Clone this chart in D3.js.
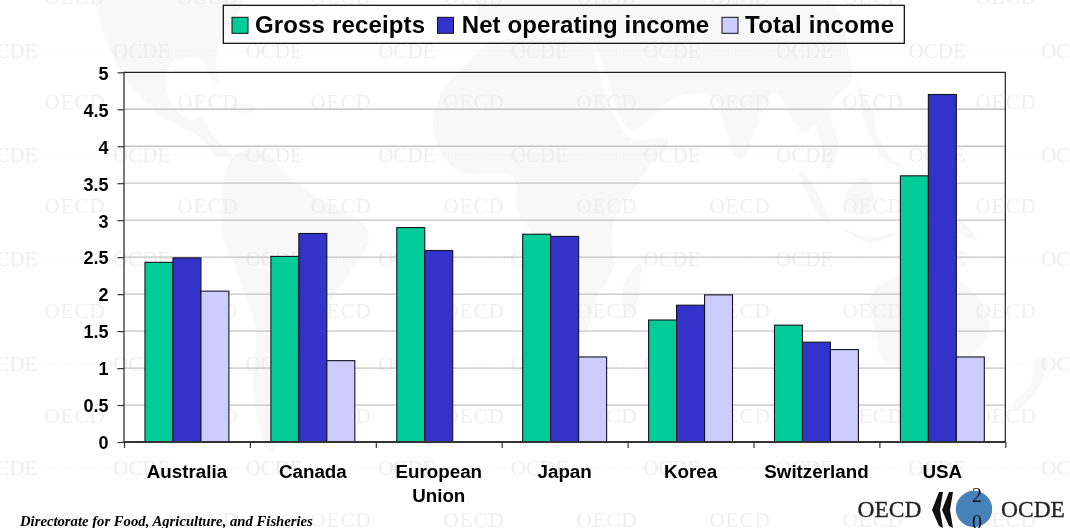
<!DOCTYPE html>
<html><head><meta charset="utf-8">
<script src="https://cdn.jsdelivr.net/npm/d3@7/dist/d3.min.js"></script>
<style>html,body{margin:0;padding:0;background:#fff;overflow:hidden}svg{display:block;filter:blur(0.35px)}</style>
</head><body><svg id="c" width="1070" height="528"></svg>
<script>
const categories = ["Australia","Canada","European Union","Japan","Korea","Switzerland","USA"];
const seriesNames = ["Gross receipts","Net operating income","Total income"];
const grossReceipts = [2.43,2.51,2.9,2.81,1.65,1.58,3.6];
const netOperatingIncome = [2.49,2.82,2.59,2.78,1.85,1.35,4.7];
const totalIncome = [2.04,1.1,null,1.15,1.99,1.25,1.15];
const yTicks = [0,0.5,1,1.5,2,2.5,3,3.5,4,4.5,5];
const seriesColors = ["#00CC99","#3333CC","#CCCCFF"];
const seriesValues = [grossReceipts,netOperatingIncome,totalIncome];

const svg = d3.select("#c");
const L=124,R=1005.3,T=72.3,B=442;
const y=d3.scaleLinear().domain([0,5]).range([B,T]);
const x0=d3.scaleBand().domain(categories).range([L,R]).paddingInner(1/3).paddingOuter(1/6);
const x1=d3.scaleBand().domain(seriesNames).range([0,x0.bandwidth()]);
const xTick=d3.scaleLinear().domain([0,categories.length]).range([L,R]);

/* background decoration: world map silhouette */
const land=[
 [[98,-6],[100,20],[113,57],[123,73],[140,97],[157,113],[180,127],[200,137],[217,157],[232,155],[222,145],[208,128],[200,116],[190,120],[178,112],[167,93],[167,70],[177,60],[200,60],[213,80],[218,82],[217,50],[243,-6]],
 [[230,105],[245,104],[257,108],[250,113],[235,110]],
 [[232,158],[260,150],[290,177],[321,200],[362,223],[369,240],[355,265],[328,307],[324,331],[293,364],[283,414],[273,454],[263,441],[253,381],[256,331],[235,267],[222,230]],
 [[490,43],[467,63],[443,90],[433,130],[457,170],[513,177],[517,210],[530,230],[543,250],[585,332],[597,297],[613,270],[613,227],[647,170],[668,140],[630,137],[597,67],[592,45],[540,38]],
 [[623,287],[640,263],[637,303],[627,317]],
 [[480,-6],[478,15],[510,25],[550,18],[590,40],[603,65],[630,130],[677,97],[712,97],[740,160],[774,93],[803,133],[815,125],[828,170],[838,147],[830,107],[852,80],[850,60],[823,-6]],
 [[857,83],[873,113],[877,133],[890,157],[903,167],[885,160],[868,130]],
 [[798,170],[810,180],[830,223],[822,220]],
 [[847,190],[867,177],[873,210],[850,213]],
 [[840,227],[870,237],[897,233],[870,243]],
 [[925,217],[960,220],[977,240],[955,232]],
 [[870,297],[897,277],[957,280],[987,313],[987,337],[963,360],[937,368],[883,360],[877,337]],
 [[1038,357],[1030,385],[1013,405],[1016,411],[1036,392],[1047,362]]
];
const bg=svg.append("g");
const closed=d3.line().curve(d3.curveCatmullRomClosed.alpha(0.5));
land.forEach(p=>bg.append("path").attr("d",closed(p)).attr("fill","#f8f8f8"));

/* background decoration: repeated watermark */
[-3,101.5,206,311,416,520].forEach(yy=>{
  d3.range(8).forEach(i=>bg.append("text").text("OECD").attr("x",75+i*133).attr("y",yy+7).attr("text-anchor","middle")
    .attr("font-family","Liberation Serif").attr("font-size",21).attr("fill","#efefef").attr("letter-spacing",1));
});
[51,155,259,364,468].forEach(yy=>{
  bg.append("line").attr("x1",0).attr("x2",1070).attr("y1",yy).attr("y2",yy)
    .attr("stroke","#eaeaea").attr("stroke-width",1).attr("stroke-dasharray","1 2.5");
  d3.range(9).forEach(i=>bg.append("text").text("OCDE").attr("x",9+i*132.6).attr("y",yy+7).attr("text-anchor","middle")
    .attr("font-family","Liberation Serif").attr("font-size",21).attr("fill","#eeeeee"));
});

/* grid */
svg.append("g").selectAll("line").data(yTicks.filter(d=>d>0&&d<5)).join("line")
 .attr("x1",L).attr("x2",R).attr("y1",d=>y(d)).attr("y2",d=>y(d)).attr("stroke","#c4c4c4").attr("stroke-width",1.3);

/* bars */
const groups=svg.append("g").selectAll("g").data(categories).join("g").attr("transform",d=>`translate(${x0(d)},0)`);
groups.selectAll("rect").data((d,i)=>seriesNames.map((s,k)=>({s,k,v:seriesValues[k][i]})).filter(e=>e.v!=null)).join("rect")
 .attr("x",d=>x1(d.s)).attr("width",x1.bandwidth()).attr("y",d=>y(d.v)).attr("height",d=>y(0)-y(d.v))
 .attr("fill",d=>seriesColors[d.k]).attr("stroke","#14141f").attr("stroke-width",1.1);

/* frame */
svg.append("path").attr("d",`M${L},${B}V${T}H${R}V${B}`).attr("fill","none").attr("stroke","#222").attr("stroke-width",1.2);

/* axes */
const yAxis=svg.append("g").attr("transform",`translate(${L},0)`)
 .call(d3.axisLeft(y).tickValues(yTicks).tickFormat(d3.format("~g")).tickSize(6.5).tickPadding(9));
yAxis.select(".domain").remove();
yAxis.selectAll("line").attr("stroke","#333").attr("stroke-width",1.2);
yAxis.selectAll("text").attr("font-family","Liberation Sans").attr("font-weight","bold").attr("font-size",18).attr("fill","#000").attr("dy","0.38em");

const xAxis=svg.append("g").attr("transform",`translate(0,${B})`)
 .call(d3.axisBottom(xTick).tickValues(d3.range(categories.length+1)).tickFormat("").tickSize(6).tickSizeOuter(0));
xAxis.select(".domain").attr("stroke","#333").attr("stroke-width",2).attr("d",`M${L},0H${R}`);
xAxis.selectAll("line").attr("stroke","#333").attr("stroke-width",1.2);

const labels=svg.append("g").selectAll("text").data(categories).join("text")
 .attr("text-anchor","middle").attr("font-family","Liberation Sans").attr("font-weight","bold").attr("font-size",18.8).attr("fill","#000")
 .attr("y",477.5);
labels.each(function(d){
  const cx=x0(d)+x0.bandwidth()/2;
  const parts=d==="European Union"?["European","Union"]:[d];
  parts.forEach((w,i)=>d3.select(this).append("tspan").attr("x",cx).attr("dy",i?24:0).text(w));
});

/* legend */
const leg=svg.append("g");
leg.append("rect").attr("x",223.3).attr("y",5.3).attr("width",681).attr("height",38).attr("fill","none").attr("stroke","#000").attr("stroke-width",1.2);
const swX=[232,437.5,722], txX=[255,461.7,745], txW=[170,247.5,149];
seriesNames.forEach((s,i)=>{
  leg.append("rect").attr("x",swX[i]).attr("y",17.3).attr("width",16).attr("height",16).attr("fill",seriesColors[i]).attr("stroke","#111").attr("stroke-width",1);
  leg.append("text").attr("x",txX[i]).attr("y",33.3).text(s).attr("font-family","Liberation Sans").attr("font-weight","bold").attr("font-size",24).attr("fill","#000")
    .attr("textLength",txW[i]).attr("lengthAdjust","spacing");
});

/* footer */
svg.append("text").attr("x",20).attr("y",525.8).text("Directorate for Food, Agriculture, and Fisheries")
 .attr("font-family","Liberation Serif").attr("font-weight","bold").attr("font-style","italic").attr("font-size",14.7).attr("fill","#000");

/* logo */
const logo=svg.append("g");
logo.append("text").text("OECD").attr("x",857.5).attr("y",516.7).attr("font-family","Liberation Serif").attr("font-size",23.5).attr("fill","#222").attr("stroke","#222").attr("stroke-width",0.3);
logo.append("text").text("OCDE").attr("x",1001).attr("y",516.7).attr("font-family","Liberation Serif").attr("font-size",23.5).attr("fill","#222").attr("stroke","#222").attr("stroke-width",0.3);
logo.append("circle").attr("cx",974).attr("cy",509).attr("r",18.2).attr("fill","#4682B9");
const chev=d3.line();
[0,10].forEach(dx=>logo.append("path").attr("fill","#111").attr("transform",`translate(${dx},0)`)
 .attr("d",chev([[939,492],[943,492],[940,510],[943,528],[939,526],[932,510]])+"Z"));
logo.append("text").text("2").attr("x",977).attr("y",501.7).attr("text-anchor","middle").attr("font-family","Liberation Serif").attr("font-size",20).attr("fill","#111");
logo.append("text").text("0").attr("x",977).attr("y",528.5).attr("text-anchor","middle").attr("font-family","Liberation Serif").attr("font-size",20).attr("fill","#111");
</script></body></html>
